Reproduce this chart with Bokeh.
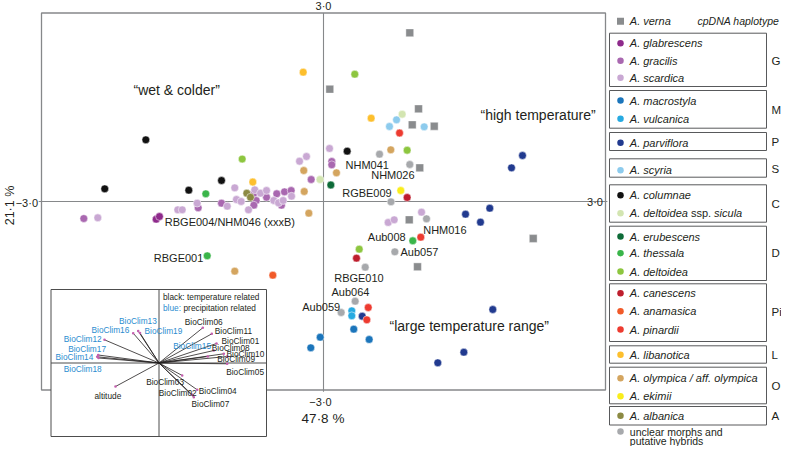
import math
from bokeh.plotting import figure
from bokeh.models import Range1d
from bokeh.core.properties import value
from bokeh.embed import file_html
from bokeh.resources import INLINE

# ---------------- data: PCA scores (PC1 47.8 %, PC2 21.1 %) ----------------
verna_x = [0.918, 0.067, 1.011, 0.944, 1.178, 1.024, 0.912, 2.231, 1.000]
verna_y = [2.685, 1.787, 1.475, 1.221, 1.198, 0.536, -0.291, -0.589, -1.039]

glabrescens_x = [-1.780, -1.745]
glabrescens_y = [-0.282, -0.239]

gracilis_x = [-2.550, 0.088, 0.088, -0.131, -1.333, -1.085, -0.741, -0.716, -0.741, -0.606,
              -0.497, -0.415, -0.344, -0.447]
gracilis_y = [-0.271, 0.637, 0.584, 0.350, -0.100, -0.027, 0.132, 0.016, -0.059, 0.068,
              0.123, 0.154, 0.175, -0.059]

scardica_x = [-2.401, -1.550, -1.503, -1.344, -1.024, -0.944, -0.926, -0.876, -0.798, -0.731,
              -0.670, -0.606, -0.529, -0.479, -0.429, -0.340, -0.255, -0.181, 0.064, 1.043,
              0.688, 0.752]
scardica_y = [-0.259, -0.132, -0.132, -0.027, -0.075, 0.218, 0.032, 0.000, -0.132, 0.186,
              0.132, 0.175, 0.016, -0.021, 0.016, 0.084, 0.641, 0.716, 0.844, -0.170,
              -0.334, -0.291]

macrostyla_x = [0.322, 0.486, -0.035, -0.135]
macrostyla_y = [-2.032, -2.196, -2.160, -2.328]

vulcanica_x = [0.301, 0.301]
vulcanica_y = [-1.740, -1.819]

parviflora_x = [1.511, 1.769, 1.670, 2.000, 2.117, 0.412, 1.801, 1.493, 1.216]
parviflora_y = [-0.202, -0.107, -0.329, 0.536, 0.732, -1.826, -1.719, -2.399, -2.567]

scyria_x = [0.777, 0.702, 1.071]
scyria_y = [1.300, 1.194, 1.189]

columnae_x = [-1.890, -2.327, -1.433, -1.085, 0.252]
columnae_y = [0.982, 0.202, 0.180, 0.334, 0.801]

sicula_x = [-0.037, 0.837]
sicula_y = [0.350, 1.389]

erubescens_x = [0.078]
erubescens_y = [0.263]

thessala_x = [-1.252, -1.237, 0.950]
thessala_y = [0.123, -0.864, -0.625]

deltoidea_x = [0.333, -0.865, 0.890, 0.380]
deltoidea_y = [2.026, 0.676, 0.816, -0.759]

canescens_x = [0.890, 0.351]
canescens_y = [0.064, -0.902]

anamasica_x = [-0.539]
anamasica_y = [-1.173]

pinardii_x = [0.809, 1.035, 0.476, 0.461]
pinardii_y = [1.090, -0.568, -1.687, -1.883]

libanotica_x = [-0.216, 0.507, -0.752]
libanotica_y = [2.058, 1.326, 0.310]

olympica_x = [0.716, -0.210, 0.138, -0.205, -0.156, -0.944]
olympica_y = [0.823, 0.493, 0.457, 0.159, -0.186, -1.109]

ekimii_x = [0.822]
ekimii_y = [0.175]

albanica_x = [-0.816, -0.777]
albanica_y = [0.132, 0.068]

unclear_x = [0.596, 0.918, 0.718, 1.096, 0.759, 0.444, 0.337, 0.188]
unclear_y = [0.753, 0.589, -0.005, -0.275, -0.801, -1.046, -1.587, -1.767]

# loadings of the bioclimatic variables (inset biplot)
var_names = ["BioClim13", "BioClim16", "BioClim19", "BioClim12", "BioClim17", "BioClim14",
             "BioClim18", "BioClim15", "BioClim06", "BioClim11", "BioClim01", "BioClim08",
             "BioClim10", "BioClim09", "BioClim05", "BioClim03", "BioClim04", "BioClim02",
             "BioClim07", "altitude"]
var_type = ["prec", "prec", "prec", "prec", "prec", "prec", "prec", "prec", "temp", "temp",
            "temp", "temp", "temp", "temp", "temp", "temp", "temp", "temp", "temp", "temp"]
load_x = [-0.208, -0.258, -0.190, -0.545, -0.608, -0.618, -0.605, 0.488, 0.438, 0.528,
          0.575, 0.548, 0.648, 0.682, 0.682, 0.232, 0.382, 0.332, 0.348, -0.435]
load_y = [0.320, 0.298, 0.300, 0.232, 0.080, 0.062, 0.050, 0.065, 0.352, 0.292,
          0.195, 0.125, 0.092, 0.065, -0.008, -0.125, -0.268, -0.318, -0.342, -0.235]

point_labels = ["NHM041", "NHM026", "RGBE009", "RBGE004/NHM046 (xxxB)", "RBGE001", "NHM016",
                "Aub008", "Aub057", "RBGE010", "Aub064", "Aub059"]
region_labels = ["\u201cwet & colder\u201d", "\u201chigh temperature\u201d",
                 "\u201clarge temperature range\u201d"]
haplotypes = ["G", "M", "P", "S", "C", "D", "Pi", "L", "O", "A"]

# ---------------- styling / layout ----------------
FONT = "Liberation Sans"
INK = "#231f20"
BLUE = "#2a8ccf"
GREY_LINE = "#86888a"

groups = [
    ("A. glabrescens", glabrescens_x, glabrescens_y, "#8e2a8b"),
    ("A. gracilis", gracilis_x, gracilis_y, "#a968b0"),
    ("A. scardica", scardica_x, scardica_y, "#c9a8d3"),
    ("A. macrostyla", macrostyla_x, macrostyla_y, "#1b75bb"),
    ("A. vulcanica", vulcanica_x, vulcanica_y, "#27aae1"),
    ("A. parviflora", parviflora_x, parviflora_y, "#213a8f"),
    ("A. scyria", scyria_x, scyria_y, "#8dcbed"),
    ("A. columnae", columnae_x, columnae_y, "#111111"),
    ("A. deltoidea ssp. sicula", sicula_x, sicula_y, "#d3e5b1"),
    ("A. erubescens", erubescens_x, erubescens_y, "#0e6b38"),
    ("A. thessala", thessala_x, thessala_y, "#3ab54a"),
    ("A. deltoidea", deltoidea_x, deltoidea_y, "#8dc63f"),
    ("A. canescens", canescens_x, canescens_y, "#be1e2d"),
    ("A. anamasica", anamasica_x, anamasica_y, "#f15a29"),
    ("A. pinardii", pinardii_x, pinardii_y, "#ed3b30"),
    ("A. libanotica", libanotica_x, libanotica_y, "#fdbf2d"),
    ("A. olympica / aff. olympica", olympica_x, olympica_y, "#d4a55f"),
    ("A. ekimii", ekimii_x, ekimii_y, "#f9ed1c"),
    ("A. albanica", albanica_x, albanica_y, "#8c8a43"),
    ("unclear", unclear_x, unclear_y, "#a7a9ac"),
]
VERNA_COLOR = "#8a8c8e"

# pixel mapping of the canvas
PX0, PX1, PY0, PY1 = 0, 781, 0, 446
CX, CY, SX, SY = 323.0, 201.0, 94.0, 62.83     # PCA origin and px per unit
LX, LY, LS = 158.5, 362.5, 100.0               # inset origin and px per loading unit

p = figure(width=PX1 - PX0, height=PY1 - PY0, output_backend="svg", toolbar_location=None,
           x_range=Range1d((PX0 - CX) / SX, (PX1 - CX) / SX),
           y_range=Range1d((CY - PY1) / SY, (CY - PY0) / SY),
           x_axis_type=None, y_axis_type=None, min_border=0,
           outline_line_color=None, background_fill_color="white",
           border_fill_color="white")
p.grid.visible = False
p.extra_x_ranges = {"px": Range1d(PX0, PX1), "ld": Range1d((PX0 - LX) / LS, (PX1 - LX) / LS)}
p.extra_y_ranges = {"px": Range1d(PY1, PY0), "ld": Range1d((LY - PY1) / LS, (LY - PY0) / LS)}
PXR = dict(x_range_name="px", y_range_name="px")
LDR = dict(x_range_name="ld", y_range_name="ld")


def txt(xs, ys, texts, size, color=INK, style="normal", align="left", angle=0.0, **kw):
    p.text(x=xs, y=ys, text=texts, text_font=value(FONT), text_font_size=size,
           text_color=color, text_font_style=style, text_align=align,
           text_baseline="middle", angle=angle, **kw)


# main frame and cross axes
p.quad(left=-3, right=3, bottom=-3, top=3, fill_color=None, line_color=GREY_LINE, line_width=1.3)
p.segment(x0=[-3.03, 0], y0=[0, -3.03], x1=[3.02, 0], y1=[0, 3.0],
          line_color=GREY_LINE, line_width=1.1)

# data points
for name, xs, ys, col in groups:
    p.scatter(xs, ys, marker="circle", size=7.8, fill_color=col, line_color="white",
              line_width=0.5)
p.scatter(verna_x, verna_y, marker="square", size=7.8, fill_color=VERNA_COLOR,
          line_color="white", line_width=0.4)

# axis texts
txt([323], [5.5], ["3\u00b70"], "11px", align="center", **PXR)
txt([37.5], [202], ["\u22123\u00b70"], "11px", align="right", **PXR)
txt([594.5], [201], ["3\u00b70"], "11px", align="center", **PXR)
txt([320], [401.7], ["\u22123\u00b70"], "11px", align="center", **PXR)
txt([322.5], [417.7], ["47\u00b78 %"], "13.5px", align="center", **PXR)
txt([9.5], [205], ["21\u00b71 %"], "12.5px", align="center", angle=math.pi / 2, **PXR)

# annotations
lab_px_x = [345, 370.7, 341.7, 164.3, 153.3, 422.7, 367.3, 400, 333.7, 331, 301.7]
lab_px_y = [164.3, 174.3, 192, 221.3, 257.7, 229, 236, 251.7, 277.3, 291, 306]
txt(lab_px_x, lab_px_y, point_labels, "11px", **PXR)
txt([133, 480, 389], [89.3, 114, 325.7], region_labels, "14px", **PXR)

# ---------------- inset biplot ----------------
p.quad(left=50.5, right=266, top=289, bottom=436, fill_color="white", line_color="#4d4d4d",
       line_width=1, **PXR)
p.segment(x0=[LX, 50.5], y0=[289, LY], x1=[LX, 266], y1=[436, LY], line_color="#4d4d4d",
          line_width=1, **PXR)
n = len(var_names)
p.segment(x0=[0] * n, y0=[0] * n, x1=load_x, y1=load_y, line_color=INK, line_width=0.8, **LDR)
p.scatter(load_x, load_y, size=2.6, marker="circle", fill_color="#c45fae", line_color=None, **LDR)
vlab_x = [118.5, 91, 144, 63.3, 67.7, 55, 63.3, 172.7, 184.3, 214.3, 221, 211.3, 226, 216.7,
          225.7, 145.7, 198.3, 158.3, 191, 94]
vlab_y = [320.5, 329, 330.5, 338.5, 348, 356.7, 368.7, 345.3, 321, 330.7, 340, 347, 353.3, 358,
          371.3, 381, 390.3, 392.7, 403, 395.7]
vcol = [BLUE if t == "prec" else INK for t in var_type]
p.text(x=vlab_x, y=vlab_y, text=var_names, text_font=value(FONT), text_font_size="8.3px",
       text_color=vcol, text_baseline="middle", text_align="left", **PXR)
txt([162.5], [296], ["black: temperature related"], "8.3px", **PXR)
txt([162.5], [307.3], ["blue:"], "8.3px", color=BLUE, **PXR)
txt([183.0], [307.3], ["precipitation related"], "8.3px", **PXR)

# ---------------- legend ----------------
box_top = [32.7, 90, 132, 158.3, 184.3, 225.7, 283.3, 345.3, 366.7, 406.0]
box_bot = [86, 127.7, 150, 176.7, 221.7, 280, 341, 362.7, 403.3, 424.5]
p.quad(left=[609] * 10, right=[766] * 10, top=box_top, bottom=box_bot, fill_color=None,
       line_color="#58595b", line_width=1, **PXR)
txt([771] * 10, [60, 109, 141.5, 168, 203.5, 252.5, 311, 354.3, 385.5, 415.3], haplotypes,
    "11.5px", **PXR)
txt([697], [20.7], ["cpDNA haplotype"], "10.5px", style="italic", **PXR)

row_y = [42.7, 60.3, 77.3, 100, 118.3, 142.3, 169.7, 194.7, 212.7, 236, 252.7, 271, 292.7,
         310.7, 329, 354.3, 377.7, 395.7, 415.3, 431.0]
p.scatter([620], [20.7], marker="square", size=7, fill_color=VERNA_COLOR, line_color=None, **PXR)
txt([629.3], [20.7], ["A. verna"], "11px", style="italic", **PXR)
for (name, xs, ys, col), yy in zip(groups, row_y):
    p.scatter([620], [yy], marker="circle", size=6.5, fill_color=col, line_color=None, **PXR)
    if name == "A. deltoidea ssp. sicula":
        txt([629.3], [yy], ["A. deltoidea"], "11px", style="italic", **PXR)
        txt([690.5], [yy], ["ssp."], "11px", **PXR)
        txt([713.6], [yy], ["sicula"], "11px", style="italic", **PXR)
    elif name == "unclear":
        txt([629.3, 629.3], [yy, yy + 9.8], ["unclear morphs and", "putative hybrids"],
            "10.5px", **PXR)
    else:
        txt([629.3], [yy], [name], "11px", style="italic", **PXR)

open("out.html", "w").write(file_html(p, INLINE))
